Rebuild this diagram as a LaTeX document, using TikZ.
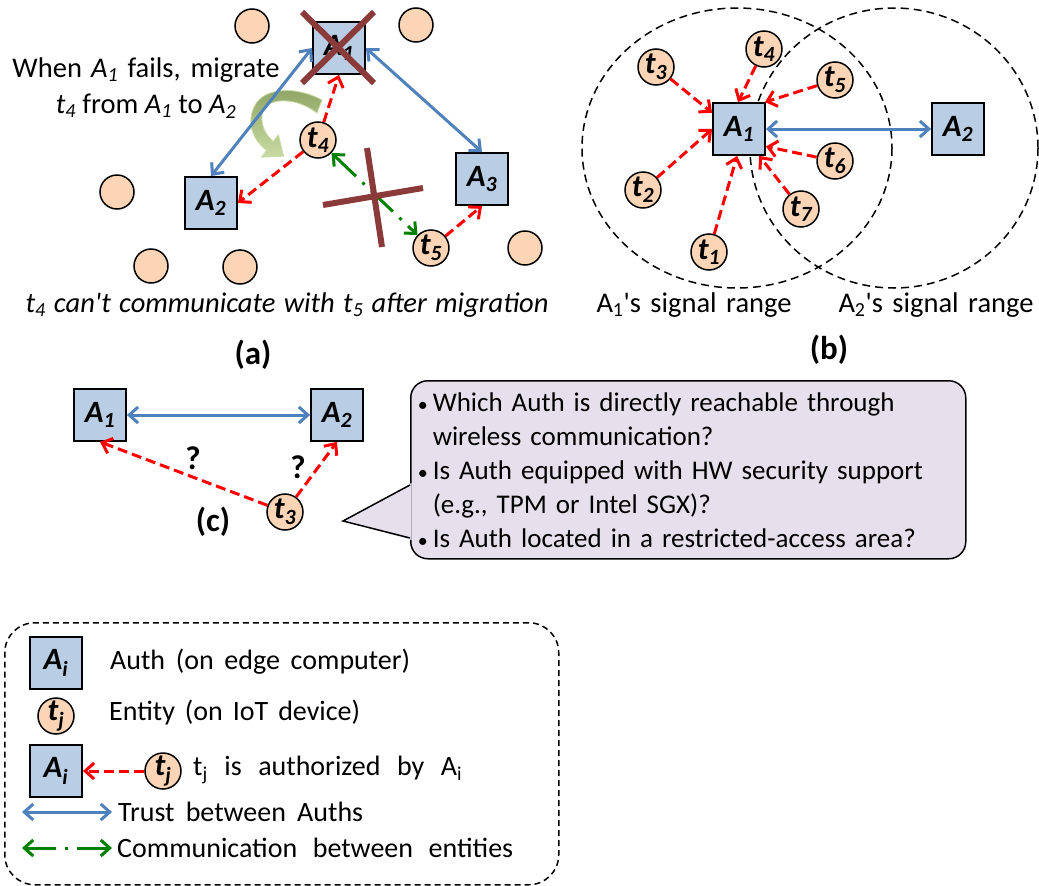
\documentclass[tikz,border=0pt]{standalone}
\usepackage{fontspec}
\setmainfont{Carlito}
\usetikzlibrary{arrows.meta}

\definecolor{authblue}{HTML}{B9CDE5}
\definecolor{entpeach}{HTML}{FBD5B5}
\definecolor{trustblue}{HTML}{4F81BD}
\definecolor{commgreen}{HTML}{008000}
\definecolor{failbrown}{HTML}{8B3A3A}
\definecolor{askfill}{HTML}{E5E0EC}
\definecolor{migdark}{HTML}{8DA363}
\definecolor{miglight}{HTML}{C9DBA3}

% stretch a line of text to a given width
\newcommand{\spreadline}[2]{\makebox[#1][s]{#2}}
\newcommand{\smallbullet}{\makebox[15pt][l]{\fontsize{20}{20}\selectfont\textbullet}}

\tikzset{
  auth/.style={draw=black, line width=1.8pt, fill=authblue, minimum size=52pt, inner sep=0pt,
    font=\bfseries\itshape\fontsize{31}{31}\selectfont},
  ent/.style={circle, draw=black, line width=1.5pt, fill=entpeach, minimum size=36pt, inner sep=0pt,
    font=\bfseries\itshape\fontsize{31}{31}\selectfont},
  idle/.style={circle, draw=black, line width=1.5pt, fill=entpeach, minimum size=34pt, inner sep=0pt},
  trust/.style={line width=3pt, trustblue, {Straight Barb[length=9pt,width=16pt]}-{Straight Barb[length=9pt,width=16pt]}},
  authz/.style={line width=3pt, red, dash pattern=on 10pt off 5pt, -{Straight Barb[length=9pt,width=16pt]}},
  comm/.style={line width=3pt, commgreen, dash pattern=on 30pt off 9pt on 3pt off 9pt,
    {Straight Barb[length=9pt,width=16pt]}-{Straight Barb[length=9pt,width=16pt]}},
  fail/.style={line width=6pt, failbrown},
  txt/.style={font=\fontsize{28.5}{36}\selectfont, inner sep=0pt},
  keytxt/.style={font=\fontsize{28}{32}\selectfont, inner sep=0pt, anchor=west},
  panelcap/.style={font=\bfseries\fontsize{33}{33}\selectfont, inner sep=0pt},
  sigrange/.style={line width=1.5pt, dash pattern=on 8pt off 5pt},
  ask/.style={draw=black, line width=1.5pt, fill=askfill, rounded corners=17pt, minimum width=555pt,
    minimum height=178pt, text width=541pt, inner xsep=7pt, align=left, font=\fontsize{27}{34}\selectfont},
  legendbox/.style={draw=black, line width=1.5pt, dash pattern=on 6pt off 4pt, rounded corners=30pt,
    minimum width=554pt, minimum height=262pt}
}

\begin{document}
\begin{tikzpicture}[x=1pt,y=-1pt]
        \useasboundingbox (0,0) rectangle (1039,886);

        % (a): migration when an Auth fails
        \foreach \p [count=\k] in {(252,26),(416,25),(117,192),(151,266),(240,267),(525,248)}
          \node[idle] (idle\k) at \p {};

        \node[auth] (A1a) at (339,48) {A\textsubscript{1}};
        \node[auth] (A2a) at (211,203) {A\textsubscript{2}};
        \node[auth] (A3a) at (482,179) {A\textsubscript{3}};
        \node[ent] (t4a) at (318,140) {t\textsubscript{4}};
        \node[ent] (t5a) at (431,248) {t\textsubscript{5}};

        % Migration arrow
        \shadedraw[top color=migdark, bottom color=miglight, draw=miglight, line width=0.8pt]
          (322,100) .. controls (300,88) and (270,86) .. (257,102)
          .. controls (246,118) and (250,138) .. (266.7,150.4)
          -- (261.6,157.2) -- (283.6,156.2) -- (278.4,134.8) -- (273.3,141.6)
          .. controls (262,132) and (258,116) .. (266,106)
          .. controls (278,97) and (300,100) .. (317,113) -- cycle;

        \draw[trust] (A1a.west) -- (A2a.north);
        \draw[trust] (A1a.east) -- (A3a.north);
        \draw[authz] (t4a) -- (A1a.south);
        \draw[authz] (t4a) -- (A2a.east);
        \draw[authz] (t5a) -- (A3a.south);
        \draw[comm] (t4a) -- (t5a);

        % Failed Auth and broken link
        \draw[fail] (302,12) -- (374,83);
        \draw[fail] (374,12) -- (302,83);
        \draw[fail] (323,205) -- (423,188);
        \draw[fail] (367,148) -- (382,247);

        \node[txt, align=center] (migtext) at (146,88)
          {\spreadline{267pt}{When \textit{A\textsubscript{1}} fails, migrate}\\
           \textit{t\textsubscript{4}} from \textit{A\textsubscript{1}} to \textit{A\textsubscript{2}}};
        \node[txt] (losttext) at (287,305)
          {\itshape\spreadline{523pt}{t\textsubscript{4} can\textquotesingle t communicate with t\textsubscript{5} after migration}};
        \node[panelcap] (capa) at (253,355) {(a)};

        % (b): signal ranges
        \draw[sigrange] (737,148) ellipse [x radius=155, y radius=140];
        \draw[sigrange] (894,148) ellipse [x radius=144, y radius=140];

        \node[auth] (A1b) at (739,129) {A\textsubscript{1}};
        \node[auth] (A2b) at (958,129) {A\textsubscript{2}};
        \node[ent] (t1b) at (709,252) {t\textsubscript{1}};
        \node[ent] (t2b) at (643,190) {t\textsubscript{2}};
        \node[ent] (t3b) at (656,67) {t\textsubscript{3}};
        \node[ent] (t4b) at (764,49) {t\textsubscript{4}};
        \node[ent] (t5b) at (835,80) {t\textsubscript{5}};
        \node[ent] (t6b) at (835,161) {t\textsubscript{6}};
        \node[ent] (t7b) at (801,209) {t\textsubscript{7}};

        \draw[trust] (A1b) -- (A2b);
        \draw[authz] (t1b) -- (A1b.-94);
        \draw[authz] (t2b) -- (A1b.180);
        \draw[authz] (t3b) -- (A1b.149);
        \draw[authz] (t4b) -- (A1b.92);
        \draw[authz] (t5b) -- (A1b.46);
        \draw[authz] (t6b) -- (A1b.-33);
        \draw[authz] (t7b) -- (A1b.-53);

        \node[txt] (rng1) at (694,305) {\spreadline{195pt}{A\textsubscript{1}\textquotesingle s signal range}};
        \node[txt] (rng2) at (936,305) {\spreadline{195pt}{A\textsubscript{2}\textquotesingle s signal range}};
        \node[panelcap] (capb) at (829,350) {(b)};

        % (c): which Auth to choose
        \node[auth] (A1c) at (100,415) {A\textsubscript{1}};
        \node[auth] (A2c) at (337,415) {A\textsubscript{2}};
        \node[ent] (t3c) at (285,512) {t\textsubscript{3}};

        \draw[trust] (A1c) -- (A2c);
        \draw[authz] (t3c) -- (A1c.south);
        \draw[authz] (t3c) -- (A2c.south);
        \node[panelcap] (q1) at (193,458) {?};
        \node[panelcap] (q2) at (298,467) {?};
        \node[panelcap] (capc) at (213,522) {(c)};

        % Questions callout
        \node[ask, anchor=north west] (askbox) at (410,380)
          {\smallbullet\spreadline{485pt}{Which Auth is directly reachable through}\\
           \hspace*{15pt}\spreadline{295pt}{wireless communication?}\\
           \smallbullet\spreadline{513pt}{Is Auth equipped with HW security support}\\
           \hspace*{15pt}\spreadline{300pt}{(e.g., TPM or Intel SGX)?}\\
           \smallbullet\spreadline{506pt}{Is Auth located in a restricted-access area?}};
        \coordinate (asktip) at (343,521);
        \coordinate (askup) at (410,485);
        \coordinate (asklo) at (410,538);
        \fill[askfill] (411.5,483) -- (asktip) -- (411.5,540) -- cycle;
        \draw[line width=1.5pt] (askup) -- (asktip) -- (asklo);

        % Legend
        \node[legendbox, anchor=north west] (legend) at (4,622) {};
        \node[auth] (keyA) at (56,663) {A\textsubscript{i}};
        \node[ent] (keyt) at (56,716) {t\textsubscript{j}};
        \node[auth] (keyA2) at (56,771) {A\textsubscript{i}};
        \node[ent] (keyt2) at (163,771) {t\textsubscript{j}};
        \draw[authz] (keyt2) -- (keyA2);
        \coordinate (trustL) at (22,812);
        \coordinate (trustR) at (112,812);
        \draw[trust] (trustL) -- (trustR);
        \coordinate (commL) at (22,848);
        \coordinate (commR) at (112,848);
        \draw[comm] (commL) -- (commR);

        \node[keytxt] (keyAtxt) at (110,662) {\spreadline{300pt}{Auth (on edge computer)}};
        \node[keytxt] (keyttxt) at (109,713) {\spreadline{251pt}{Entity (on IoT device)}};
        \node[keytxt] (keyztxt) at (193,770) {\spreadline{269pt}{t\textsubscript{j} is authorized by A\textsubscript{i}}};
        \node[keytxt] (keytrtxt) at (118,812) {\spreadline{245pt}{Trust between Auths}};
        \node[keytxt] (keycmtxt) at (117,848) {\spreadline{396pt}{Communication between entities}};
    \end{tikzpicture}
\end{document}
